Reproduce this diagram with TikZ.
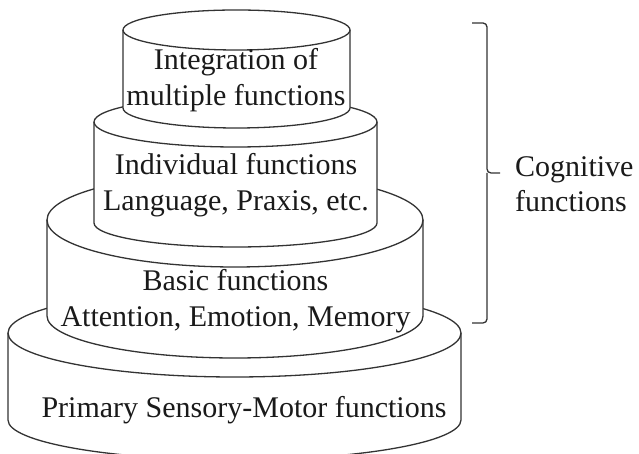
\documentclass[tikz,border=0pt]{standalone}
\usepackage{fontspec}
\setmainfont{Liberation Serif}
\definecolor{linec}{HTML}{333333}
\definecolor{textc}{HTML}{1A1A1A}
\newcommand{\drawcyl}[6]{%
  % #1 cx, #2 rx, #3 Ytop, #4 ry top, #5 Ybottom, #6 ry bottom
  \fill[white] ({#1-#2},#3) -- ({#1-#2},#5)
     arc[start angle=180,end angle=360,x radius=#2,y radius=#6]
     -- ({#1+#2},#3)
     arc[start angle=0,end angle=180,x radius=#2,y radius=#4] -- cycle;
  \draw[cylline] (#1,#3) ellipse[x radius=#2,y radius=#4];
  \draw[cylline] ({#1-#2},#3) -- ({#1-#2},#5)
     arc[start angle=180,end angle=360,x radius=#2,y radius=#6]
     -- ({#1+#2},#3);
}
\begin{document}
\begin{tikzpicture}[x=1pt,y=1pt,
  cylline/.style={draw=linec,line width=1.3pt,line join=round},
  lbl/.style={text=textc,font=\fontsize{30}{36}\selectfont,align=center,anchor=base,inner sep=0pt},
  side/.style={text=textc,font=\fontsize{30}{35}\selectfont,align=left,anchor=base west,inner sep=0pt}]
\useasboundingbox (0,0) rectangle (639,454);
\fill[white] (0,0) rectangle (639,454);
% bottom to top
\drawcyl{234.5}{226.5}{121}{44}{34}{40}
\drawcyl{235}{188}{234}{47}{138}{42}
\drawcyl{235.5}{141.5}{332}{25}{231}{24}
\drawcyl{236.5}{113.5}{424}{20}{346}{20}
% labels (base anchor = baseline of last line)
\node[lbl] (l1) at (236,348) {Integration of\\multiple functions};
\node[lbl] (l2) at (236,243) {Individual functions\\Language, Praxis, etc.};
\node[lbl] (l3) at (235.5,127) {Basic functions\\Attention, Emotion, Memory};
\node[lbl] (l4) at (244,36) {Primary Sensory-Motor functions};
% bracket
\coordinate (bt) at (472,431);
\coordinate (bb) at (472,131);
\coordinate (bm) at (487,281);
\coordinate (btip) at (500,281);
\draw[cylline,rounded corners=4pt] (bt) -| (bm) -- (btip);
\draw[cylline,rounded corners=4pt] (bb) -| (bm);
\node[side] (cog) at (515,242) {Cognitive\\functions};
\end{tikzpicture}
\end{document}
